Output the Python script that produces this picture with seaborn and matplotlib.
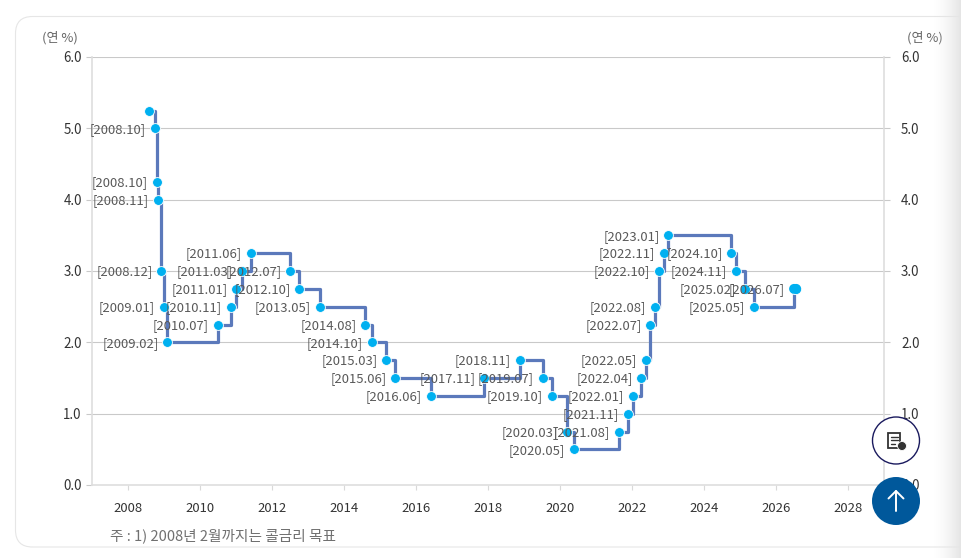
import matplotlib
matplotlib.use("Agg")
import matplotlib.pyplot as plt
import numpy as np
import pandas as pd
import seaborn as sns
from matplotlib.patches import Circle, FancyBboxPatch, Rectangle

# Policy rate steps, dates
dates = [
    "2008-08-07", "2008-10-09", "2008-10-27", "2008-11-07", "2008-12-11",
    "2009-01-09", "2009-02-12", "2010-07-09", "2010-11-16", "2011-01-13",
    "2011-03-10", "2011-06-10", "2012-07-12", "2012-10-11", "2013-05-09",
    "2014-08-14", "2014-10-15", "2015-03-12", "2015-06-11", "2016-06-09",
    "2017-11-30", "2018-11-30", "2019-07-18", "2019-10-16", "2020-03-17",
    "2020-05-28", "2021-08-26", "2021-11-25", "2022-01-14", "2022-04-14",
    "2022-05-26", "2022-07-13", "2022-08-25", "2022-10-12", "2022-11-24",
    "2023-01-13", "2024-10-11", "2024-11-28", "2025-02-25", "2025-05-29",
    "2026-07-10", "2026-08-01",
]
rates = [
    5.25, 5.00, 4.25, 4.00, 3.00, 2.50, 2.00, 2.25, 2.50, 2.75,
    3.00, 3.25, 3.00, 2.75, 2.50, 2.25, 2.00, 1.75, 1.50, 1.25,
    1.50, 1.75, 1.50, 1.25, 0.75, 0.50, 0.75, 1.00, 1.25, 1.50,
    1.75, 2.25, 2.50, 3.00, 3.25, 3.50, 3.25, 3.00, 2.75, 2.50,
    2.75, 2.75,
]
labels = [
    "", "[2008.10]", "[2008.10]", "[2008.11]", "[2008.12]",
    "[2009.01]", "[2009.02]", "[2010.07]", "[2010.11]", "[2011.01]",
    "[2011.03]", "[2011.06]", "[2012.07]", "[2012.10]", "[2013.05]",
    "[2014.08]", "[2014.10]", "[2015.03]", "[2015.06]", "[2016.06]",
    "[2017.11]", "[2018.11]", "[2019.07]", "[2019.10]", "[2020.03]",
    "[2020.05]", "[2021.08]", "[2021.11]", "[2022.01]", "[2022.04]",
    "[2022.05]", "[2022.07]", "[2022.08]", "[2022.10]", "[2022.11]",
    "[2023.01]", "[2024.10]", "[2024.11]", "[2025.02]", "[2025.05]",
    "[2026.07]", "",
]
year_ticks = [2008, 2010, 2012, 2014, 2016, 2018, 2020, 2022, 2024, 2026, 2028]
rate_ticks = [0, 1, 2, 3, 4, 5, 6]

W, H = 961, 558

sns.set_theme(style="white")
plt.rcParams["font.family"] = ["Noto Sans CJK KR", "DejaVu Sans"]

d = pd.to_datetime(dates)
df = pd.DataFrame({
    # the original axis sits about a week ahead of the calendar
    "year": d.year + (d.dayofyear - 8) / 365.25,
    "rate": rates,
    "label": labels,
})

fig = plt.figure(figsize=(W / 100, H / 100), dpi=100, facecolor="white")

# card behind the chart
bg = fig.add_axes([0, 0, 1, 1], zorder=-1)
bg.set_xlim(0, W)
bg.set_ylim(H, 0)
bg.axis("off")
bg.add_patch(FancyBboxPatch((15.5, 16.5), 960, 530.5,
                            boxstyle="round,pad=0,rounding_size=17",
                            fc="white", ec="#e6e6e6", lw=0.8))

ax = fig.add_axes([92 / W, 1 - 485 / H, (884 - 92) / W, (485 - 57) / H])
ax.patch.set_alpha(0)

sns.lineplot(data=df, x="year", y="rate", drawstyle="steps-post", color="#5b79bb",
             lw=2.3, errorbar=None, sort=False, ax=ax, zorder=3)
sns.scatterplot(data=df, x="year", y="rate", color="#00b0f0", s=50, edgecolor="white",
                linewidth=0.6, ax=ax, zorder=4, clip_on=False)
# the last two points melt into one blob
sns.scatterplot(data=df.tail(2), x="year", y="rate", color="#00b0f0", s=50,
                edgecolor="none", ax=ax, zorder=4)

for _, row in df.iterrows():
    if row["label"]:
        ax.annotate(row["label"], (row["year"], row["rate"]), xytext=(-6.4, 0.5),
                    textcoords="offset points", ha="right", va="center_baseline",
                    fontsize=9.4, color="#595959", zorder=5)

ax.set_xlim(2007, 2029)
ax.set_ylim(0, 6)
ax.set_xticks(year_ticks)
ax.set_yticks(rate_ticks)
ax.set_yticklabels([f"{v:.1f}" for v in rate_ticks])
ax.set_xlabel("")
ax.set_ylabel("")
ax.grid(axis="y", color="#c9c9c9", lw=0.8)
ax.set_axisbelow(True)
ax.tick_params(axis="y", length=4.3, width=0.8, color="#c9c9c9", pad=3,
               labelsize=9.6, labelcolor="#333333", left=True)
ax.tick_params(axis="x", length=3.6, width=0.8, color="#d9d9d9", pad=9,
               labelsize=9.4, labelcolor="#333333", bottom=True)
ax.spines["top"].set_visible(False)
for name in ["left", "right", "bottom"]:
    ax.spines[name].set_color("#dedede")
    ax.spines[name].set_linewidth(1.2)

ax2 = ax.twinx()
ax2.set_ylim(0, 6)
ax2.set_yticks(rate_ticks)
ax2.set_yticklabels([f"{v:.1f}" for v in rate_ticks])
ax2.set_ylabel("")
ax2.grid(False)
ax2.tick_params(axis="y", length=4.3, width=0.8, color="#c9c9c9", pad=8,
                labelsize=9.6, labelcolor="#333333", right=True)
for spine in ax2.spines.values():
    spine.set_visible(False)

fig.text(42 / W, 1 - 38 / H, "(연 %)", fontsize=9.4, color="#666666", va="center")
fig.text(907 / W, 1 - 38 / H, "(연 %)", fontsize=9.4, color="#666666", va="center")
fig.text(110 / W, 1 - 536 / H, "주 : 1) 2008년 2월까지는 콜금리 목표", fontsize=10.55,
         color="#707070", va="center")

# page overlay: scrollbar shade and the two floating buttons
top = fig.add_axes([0, 0, 1, 1], zorder=10)
top.axis("off")
top.patch.set_alpha(0)
shade = np.zeros((2, 64, 4))
shade[..., :3] = 0.9
shade[..., 3] = np.linspace(0, 1, 64)[None, :] ** 1.5
top.imshow(shade, extent=(933, W, H, 0), aspect="auto", zorder=1)
top.set_xlim(0, W)
top.set_ylim(H, 0)

top.add_patch(Circle((896, 440.5), 23.5, fc="white", ec="#1a1a5e", lw=1, zorder=2))
top.add_patch(Rectangle((888, 432.5), 11.5, 15, fc="white", ec="#333333", lw=1.3, zorder=3))
top.plot([890.5, 897.5], [436.5, 436.5], color="#333333", lw=1, zorder=4)
top.plot([890.5, 897.5], [440, 440], color="#333333", lw=1, zorder=4)
top.plot([890.5, 895], [443.5, 443.5], color="#333333", lw=1, zorder=4)
top.add_patch(Circle((902, 446), 4.5, fc="#333333", ec="white", lw=0.6, zorder=5))

top.add_patch(Circle((896, 501), 24, fc="#00589b", ec="none", zorder=2))
top.plot([896, 896], [491, 510.5], color="white", lw=1.4, zorder=3)
top.plot([888.5, 896, 903.5], [498.5, 491, 498.5], color="white", lw=1.4, zorder=3)

fig.savefig("out.png", dpi=100)
